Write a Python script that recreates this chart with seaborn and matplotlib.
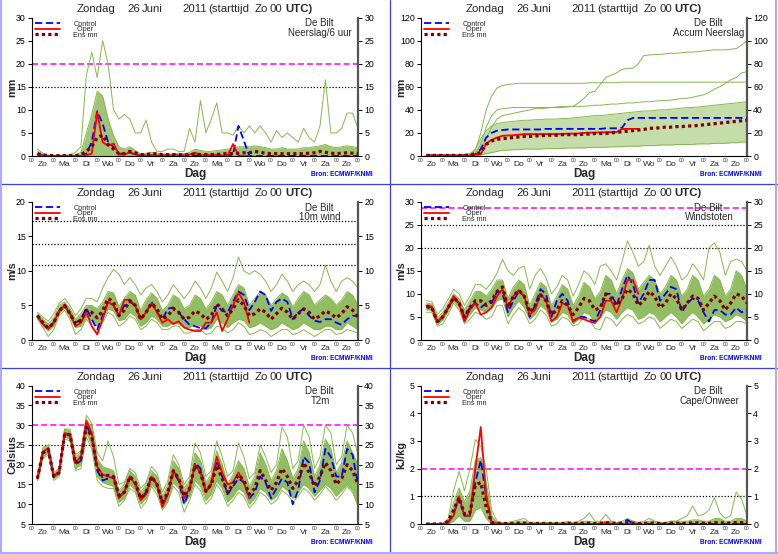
import numpy as np
import matplotlib
matplotlib.use("Agg")
import matplotlib.pyplot as plt
import seaborn as sns
from matplotlib.lines import Line2D

sns.set_style("white")
plt.rcParams['font.family'] = ['Liberation Sans', 'DejaVu Sans']

# ---------------- data (6-hourly, +6h .. +360h) ----------------
hours = list(range(6, 361, 6))
day_names = ["Zo", "Ma", "Di", "Wo", "Do", "Vr", "Za", "Zo", "Ma", "Di", "Wo", "Do", "Vr", "Za", "Zo"]

# Neerslag / 6 uur (mm)
pr_mean = [0.5,0.2,0.1,0.1, 0.1,0.1,0.1,0.1, 0.3,1.0,2.0,4.0, 4.5,2.5,1.5,0.5, 0.5,1.0,0.7,0.3, 0.3,0.5,0.5,0.3,
           0.3,0.3,0.3,0.2, 0.3,0.4,0.3,0.3, 0.3,0.3,0.5,0.5, 0.5,0.6,0.7,0.7, 1.0,0.8,0.6,0.5, 0.5,0.5,0.5,0.5,
           0.5,0.5,0.6,0.7, 1.0,0.8,0.6,0.5, 0.6,0.7,0.6,0.5]
pr_ctrl = [0.4,0.1,0.0,0.0, 0.0,0.0,0.0,0.0, 0.0,0.5,3.0,9.7, 7.0,3.0,2.0,0.5, 0.5,0.8,0.3,0.1, 0.1,0.1,0.1,0.1,
           0.1,0.1,0.1,0.1, 0.1,0.1,0.1,0.1, 0.1,0.1,0.1,0.1, 0.3,6.5,3.3,0.0, 0.0,0.0,0.0,0.0, 0.0,0.0,0.0,0.0,
           0.0,0.0,0.0,0.0, 0.0,0.0,0.0,0.0, 0.0,0.0,0.0,0.0]
pr_oper = [0.3,0.0,0.0,0.0, 0.0,0.0,0.0,0.0, 0.0,0.2,0.5,9.5, 3.0,2.2,2.7,0.3, 0.3,0.8,0.3,0.1, 0.1,0.1,0.1,0.1,
           0.1,0.1,0.1,0.1, 0.3,0.7,0.2,0.2, 0.2,0.2,0.1,0.1, 2.6,0.1,0.0,0.0]
pr_lo = [0.0,0.0,0.0,0.0, 0.0,0.0,0.0,0.0, 0.0,0.0,0.0,0.0, 0.0,0.0,0.0,0.0, 0.0,0.0,0.0,0.0, 0.0,0.0,0.0,0.0,
         0.0,0.0,0.0,0.0, 0.0,0.0,0.0,0.0, 0.0,0.0,0.0,0.0, 0.0,0.0,0.0,0.0, 0.0,0.0,0.0,0.0, 0.0,0.0,0.0,0.0,
         0.0,0.0,0.0,0.0, 0.0,0.0,0.0,0.0, 0.0,0.0,0.0,0.0]
pr_hi = [1.0,0.4,0.1,0.1, 0.1,0.1,0.1,0.2, 0.8,5.0,9.0,14.0, 13.0,8.0,4.5,2.0, 1.5,2.0,1.2,0.5, 0.6,0.8,0.6,0.5,
         0.4,0.5,0.6,0.5, 0.8,1.5,1.2,1.0, 1.0,1.2,1.3,1.5, 1.5,2.0,2.0,2.0, 2.2,2.0,1.8,1.5, 1.5,1.8,1.5,1.5,
         1.5,1.8,1.8,2.0, 2.2,2.5,2.0,1.8, 2.0,2.2,2.0,1.8]
pr_max = [1.5,0.6,0.2,0.2, 0.2,0.2,0.3,0.8, 2.0,17.5,22.5,17.0, 25.0,20.0,10.0,8.0, 9.0,8.0,5.0,5.0, 7.8,3.0,1.0,1.0,
          1.5,1.5,1.0,1.0, 6.0,3.0,12.0,5.0, 8.0,11.5,5.0,5.0, 4.5,6.5,5.0,6.5, 5.0,6.5,5.0,3.0, 5.5,4.0,5.0,4.0,
          3.0,6.0,4.0,3.0, 6.5,16.5,5.0,5.0, 6.0,9.3,9.3,6.0]

# Accum neerslag (mm)
acc_mean = [0.5,0.5,0.5,0.5, 0.5,0.5,0.5,0.5, 0.8,2.0,3.0,10.0, 13.0,14.5,15.0,15.5, 16.0,16.5,17.0,17.0, 17.5,17.5,18.0,18.0,
            18.0,18.5,18.5,18.5, 18.5,19.0,19.0,19.5, 19.5,19.5,20.0,20.5, 21.0,21.5,22.0,22.5, 23.0,24.0,24.0,24.5,
            25.0,25.0,25.5,25.5, 26.0,26.0,26.5,27.0, 27.5,28.0,28.5,29.0, 29.5,30.0,30.5,31.0]
acc_ctrl = [0.5,0.5,0.5,0.5, 0.5,0.5,0.5,0.5, 0.5,1.5,6.0,16.0, 20.0,22.0,22.5,23.0, 23.0,23.0,23.0,23.0, 23.0,23.0,23.5,23.5,
            23.5,23.5,23.5,23.5, 23.5,23.5,23.5,23.5, 23.5,24.0,24.0,24.0, 24.5,31.0,33.0,33.0, 33.0,33.0,33.0,33.0,
            33.0,33.0,33.0,33.0, 33.0,33.0,33.0,33.0, 33.0,33.0,33.0,33.0, 33.0,33.0,33.0,33.0]
acc_oper = [0.5,0.5,0.5,0.5, 0.5,0.5,0.5,0.5, 0.5,1.0,1.5,11.0, 14.0,16.0,17.5,17.8, 18.0,18.5,19.0,19.0, 19.0,19.0,19.0,19.0,
            19.0,19.2,19.3,19.4, 19.5,20.0,20.2,20.3, 20.5,20.6,20.7,20.8, 23.4,23.5,23.5,23.5]
acc_lo = [0.0,0.0,0.0,0.0, 0.0,0.0,0.0,0.0, 0.0,0.2,1.0,2.0, 3.0,4.0,5.0,5.0, 5.5,5.5,6.0,6.0, 6.0,6.0,6.5,6.5,
          6.5,6.5,7.0,7.0, 7.0,7.0,7.5,7.5, 7.5,7.5,8.0,8.0, 8.0,8.5,8.5,8.5, 9.0,9.0,9.0,9.5, 9.5,9.5,10.0,10.0,
          10.0,10.0,10.5,10.5, 10.5,11.0,11.0,11.0, 11.5,11.5,12.0,12.0]
acc_hi = [1.0,1.0,1.0,1.0, 1.0,1.0,1.0,1.5, 2.0,6.0,15.0,22.0, 26.0,28.0,29.0,29.5, 30.0,30.5,31.0,31.0, 31.5,31.5,32.0,32.0,
          32.0,32.5,32.5,33.0, 33.5,34.0,34.5,35.0, 35.0,35.5,36.0,36.5, 37.0,37.5,38.0,38.5, 39.0,39.0,39.5,40.0,
          40.0,40.5,41.0,41.5, 42.0,42.0,42.5,43.0, 43.5,44.0,44.5,45.0, 45.5,46.0,46.5,47.0]
acc_max = [0.5,0.5,0.5,0.5, 0.5,0.5,0.5,0.5, 0.5,2.0,10.0,25.0, 35.0,40.0,41.0,41.5, 42.0,42.0,42.0,42.0, 42.0,42.0,42.0,42.0,
           42.5,43.0,43.0,43.0, 46.0,50.0,55.0,56.0, 62.0,68.0,70.0,72.0, 75.0,76.0,76.0,80.0, 87.0,87.5,88.0,88.0,
           88.5,89.0,89.0,89.5, 90.0,90.0,90.5,91.0, 91.5,92.0,92.0,92.0, 92.5,93.0,96.0,100.0]
acc_flat = [0.5,0.5,0.5,0.5, 0.5,0.5,0.5,0.5, 1.0,5.0,20.0,40.0, 52.0,59.0,61.0,62.0, 62.5,63.0,63.0,63.0, 63.0,63.0,63.0,63.0,
            63.0,63.0,63.0,63.0, 63.0,63.0,63.5,63.5, 63.5,63.5,63.5,63.5, 64.0,64.0,64.0,64.0, 64.0,64.0,64.0,64.0,
            64.0,64.0,64.0,64.0, 64.0,64.0,64.0,64.0, 64.0,64.0,64.0,64.0, 64.0,64.0,64.0,64.0]
acc_late = [0.5,0.5,0.5,0.5, 0.5,0.5,0.5,0.5, 0.5,1.0,5.0,15.0, 25.0,32.0,35.0,36.0, 37.0,38.0,39.0,40.0, 41.0,41.0,41.5,42.0,
            42.0,42.0,42.5,43.0, 43.0,43.0,43.5,44.0, 44.0,44.5,45.0,45.0, 45.5,46.0,46.0,46.5, 47.0,47.0,47.5,48.0,
            48.0,48.5,49.0,50.0, 50.0,51.0,52.0,53.0, 55.0,58.0,60.0,63.0, 66.0,68.0,72.0,73.0]

# 10m wind (m/s)
wind_mean = [3.5,2.5,1.7,2.5, 4.2,5.0,3.8,2.3, 2.8,4.3,4.0,3.2, 4.2,6.0,5.5,3.5, 4.3,5.7,5.0,3.0, 4.0,5.3,4.5,3.0,
             3.5,4.5,4.0,3.0, 3.3,4.2,3.8,3.0, 3.5,5.2,4.5,3.5, 4.5,5.8,5.0,3.5, 3.8,4.5,4.0,3.0, 3.8,4.6,4.0,3.0,
             3.8,4.5,4.0,3.0, 3.5,4.2,3.8,3.2, 3.8,4.8,4.3,3.3]
wind_ctrl = [3.5,2.3,1.7,2.5, 4.2,5.0,3.8,2.5, 3.0,4.6,3.0,1.5, 3.5,5.5,5.0,3.5, 5.0,5.5,5.0,3.0, 4.0,5.5,4.0,3.0,
             4.5,4.7,4.0,3.0, 2.2,2.0,1.7,1.7, 2.5,5.0,4.2,4.0, 5.5,7.0,6.5,4.3, 5.5,7.0,6.5,4.2, 5.5,6.0,5.5,3.0,
             4.0,4.5,3.5,2.8, 2.6,3.0,3.0,2.5, 2.2,3.0,3.5,3.5]
wind_oper = [3.5,2.3,1.6,2.5, 4.2,5.0,3.8,2.0, 2.5,4.0,2.0,0.8, 3.0,5.5,5.0,3.5, 5.8,5.8,5.0,3.0, 4.0,5.3,4.0,2.5,
             3.0,2.3,2.7,1.8, 1.5,1.3,1.3,2.5, 2.5,4.0,1.3,3.0, 5.0,6.8,5.5,2.5]
wind_lo = [3.2,2.0,1.3,2.0, 3.8,4.7,3.3,1.8, 2.0,3.3,2.8,2.0, 3.0,4.5,4.2,2.8, 3.0,4.0,3.5,2.0, 2.5,3.5,3.0,2.0,
           2.0,2.5,2.3,1.8, 1.8,2.3,2.0,1.5, 1.8,3.0,2.5,1.8, 2.5,3.0,2.8,1.8, 2.0,2.5,2.0,1.5, 1.8,2.5,2.0,1.5,
           1.8,2.5,2.0,1.5, 1.5,2.0,2.0,1.5, 1.5,2.5,2.0,1.5]
wind_hi = [3.8,3.0,2.3,3.2, 5.0,5.5,4.5,3.0, 3.8,5.0,5.0,4.5, 5.5,7.0,6.8,4.8, 6.0,7.0,6.5,4.3, 5.8,6.8,6.0,4.3,
           5.0,6.5,6.0,4.5, 5.0,6.5,6.0,4.5, 5.5,7.0,6.5,5.0, 6.5,8.0,7.5,5.0, 6.0,7.0,6.5,5.0, 6.0,6.8,6.3,4.8,
           6.0,7.0,6.5,5.0, 5.8,6.5,6.0,5.0, 5.8,7.0,6.5,5.0]
wind_max = [4.0,3.3,2.7,3.8, 5.3,6.0,5.0,3.5, 4.5,6.0,6.0,5.5, 7.5,9.0,10.2,9.5, 8.0,9.0,8.0,6.5, 7.5,8.0,7.0,5.5,
            6.5,8.0,7.0,6.0, 7.0,8.5,7.5,6.0, 7.5,9.8,8.5,7.0, 9.0,12.0,10.0,9.5, 10.0,9.5,8.5,7.0, 8.0,9.5,8.5,7.0,
            8.0,8.5,8.0,7.0, 8.0,10.8,8.5,7.0, 8.5,9.0,8.5,7.5]
wind_min = [3.0,1.8,0.5,1.5, 3.5,4.3,3.0,0.8, 1.5,3.0,2.0,1.0, 2.5,4.0,3.5,2.0, 2.5,3.5,3.0,1.5, 2.0,3.0,2.5,1.5,
            1.5,2.0,2.0,1.0, 1.0,1.5,1.5,0.8, 1.0,2.0,1.8,1.0, 1.5,2.5,2.0,0.8, 1.0,1.5,1.2,0.5, 1.0,1.5,1.5,0.8,
            1.0,1.5,1.0,0.5, 1.0,1.5,1.5,0.8, 1.0,1.5,1.3,1.0]

# Windstoten (m/s)
gust_mean = [7.2,7.0,4.0,5.0, 7.0,9.2,8.0,5.0, 7.0,8.5,8.5,7.5, 8.5,10.5,11.5,7.0, 9.5,10.8,9.5,6.0, 7.5,9.8,8.5,5.5,
             6.5,8.5,7.5,5.5, 7.0,9.0,8.5,6.5, 7.0,10.0,9.0,7.5, 9.0,11.0,10.0,7.5, 8.5,10.5,9.5,7.0, 8.0,10.0,9.0,6.5,
             8.0,9.5,9.0,6.5, 8.0,9.5,8.5,6.5, 8.0,10.0,9.5,8.0]
gust_ctrl = [7.2,7.0,3.8,5.0, 7.0,9.0,8.0,5.0, 7.0,8.0,7.0,8.0, 8.0,10.5,10.0,6.0, 8.5,10.5,9.5,5.0, 7.5,11.0,10.0,5.0,
             8.5,10.0,8.5,4.0, 5.0,5.0,4.5,4.0, 6.5,10.0,10.0,7.5, 11.0,14.0,12.0,8.0, 10.0,13.0,13.0,8.5, 10.0,11.5,11.0,6.0,
             8.0,9.0,8.5,6.0, 4.0,6.5,6.5,5.5, 5.5,7.0,6.0,6.5]
gust_oper = [7.5,7.2,4.0,5.0, 7.0,9.5,8.0,4.0, 6.5,8.0,5.5,6.0, 7.0,9.5,11.0,7.0, 9.5,10.8,9.5,5.5, 6.5,10.0,8.5,4.0,
             5.0,8.0,7.5,4.0, 4.8,4.5,4.0,3.7, 5.0,8.5,8.5,6.0, 9.0,13.0,13.0,10.0]
gust_lo = [6.5,6.5,3.3,4.3, 6.3,8.5,7.0,4.0, 5.5,7.0,6.5,6.0, 7.0,8.5,9.0,5.0, 7.0,8.5,7.0,4.5, 5.5,7.5,6.5,4.0,
           4.5,6.0,5.5,3.5, 4.5,6.0,5.5,4.0, 5.0,6.5,6.0,4.5, 6.0,7.0,6.5,4.5, 5.0,6.0,5.5,4.0, 5.0,6.0,5.0,3.5,
           5.0,6.0,5.0,3.5, 4.5,5.5,5.0,4.0, 4.5,5.5,5.0,4.0]
gust_hi = [8.0,7.8,4.8,6.0, 8.0,10.0,9.0,6.5, 8.5,10.5,10.5,9.5, 11.0,13.0,13.0,9.0, 11.5,13.0,12.0,7.5, 10.0,12.5,11.5,7.5,
           9.5,12.0,11.0,7.5, 9.5,12.5,11.5,9.0, 10.5,14.0,13.0,10.0, 13.0,15.5,14.5,11.0, 12.5,14.0,13.0,10.0,
           11.5,14.0,13.0,9.5, 11.0,14.0,13.0,9.5, 11.0,14.0,13.0,9.5, 11.0,15.0,14.0,11.0]
gust_max = [8.5,8.3,5.5,6.8, 8.8,11.0,10.0,7.5, 9.5,12.0,12.0,11.0, 12.5,14.5,17.5,15.0, 14.0,15.5,16.0,11.0, 14.0,15.5,13.5,10.0,
            11.5,14.0,13.0,9.5, 12.0,15.0,14.0,12.0, 16.0,16.5,15.0,13.0, 17.0,21.5,19.0,16.0, 17.0,20.5,16.0,14.0,
            16.0,18.0,16.0,13.0, 14.0,16.5,15.0,13.0, 20.0,21.0,19.0,14.0, 17.0,17.5,17.0,15.0]
gust_min = [6.0,6.0,3.0,3.5, 5.5,8.0,6.5,3.5, 4.5,6.0,5.5,4.5, 5.0,7.5,7.5,3.5, 5.5,7.0,6.0,3.5, 4.5,6.5,5.5,3.0,
            3.5,5.0,4.5,3.0, 3.5,5.0,4.5,2.5, 2.2,5.0,4.5,3.0, 4.5,5.5,5.0,3.5, 4.0,5.0,4.5,2.5, 3.5,4.5,4.0,2.5,
            3.5,4.5,4.0,2.0, 3.0,4.0,4.0,2.5, 3.0,4.0,4.0,3.5]

# T2m (Celsius)
t2m_mean = [16.5,23.0,23.8,17.0, 18.0,27.8,27.5,20.3, 21.5,29.5,27.0,19.0, 17.0,17.3,17.0,12.2, 13.0,17.0,15.5,11.5,
            13.0,17.0,15.0,10.5, 13.0,18.5,16.5,12.0, 14.0,19.8,18.0,13.3, 15.0,19.8,16.5,13.0, 15.0,17.5,16.0,12.5,
            14.0,18.5,16.0,13.5, 15.5,19.0,17.0,14.0, 16.0,20.5,18.0,14.5, 17.0,20.5,18.5,15.0, 16.5,20.0,18.5,15.0]
t2m_ctrl = [16.5,23.0,23.5,17.0, 18.0,27.5,27.5,20.0, 21.0,30.0,27.0,18.5, 16.0,16.5,17.0,12.0, 13.0,17.0,15.5,11.5,
            13.0,17.0,15.0,10.2, 12.5,18.0,16.0,10.0, 13.5,20.5,19.0,13.0, 15.0,21.0,17.0,12.5, 14.5,16.5,15.5,11.5,
            13.0,17.0,15.5,11.5, 14.0,16.5,15.5,10.0, 13.5,22.0,20.5,13.0, 16.0,24.0,22.0,17.0, 17.0,24.0,22.5,15.0]
t2m_oper = [16.5,23.2,24.2,17.2, 18.2,28.0,27.5,20.5, 22.0,31.0,28.0,19.5, 17.5,17.0,16.5,11.5, 13.0,17.0,15.0,11.0,
            12.5,17.0,15.0,9.3, 12.5,18.5,16.5,11.5, 14.0,20.0,18.0,13.0, 15.5,22.0,18.0,15.0, 15.5,18.0,15.5,11.5]
t2m_lo = [16.0,22.0,23.0,16.5, 17.5,27.0,26.5,19.0, 20.0,28.0,25.0,17.0, 15.5,15.0,14.5,10.5, 11.5,15.0,13.5,10.0,
          11.5,15.0,13.5,9.0, 11.0,15.5,14.0,10.0, 12.0,16.0,14.5,11.0, 12.5,16.0,14.0,10.5, 12.0,14.0,13.0,10.0,
          11.5,14.0,13.0,11.0, 12.0,14.5,13.5,11.5, 13.0,15.0,14.0,12.0, 13.5,15.0,14.0,12.0, 13.5,15.0,13.5,10.0]
t2m_hi = [17.0,24.0,25.0,17.5, 19.0,29.0,28.5,22.0, 23.0,31.5,29.5,21.5, 19.5,19.0,18.5,13.5, 15.0,18.5,17.0,13.0,
          15.0,18.5,17.0,12.0, 15.0,21.0,19.0,14.0, 16.0,23.0,21.0,15.5, 17.5,23.5,20.0,15.0, 17.5,21.0,19.0,14.5,
          17.0,23.0,20.0,16.0, 18.5,24.0,21.0,16.5, 19.0,26.0,23.0,17.0, 20.0,26.5,24.0,18.0, 20.5,26.0,23.0,20.0]
t2m_max = [17.0,24.3,25.0,18.0, 19.0,29.0,29.0,22.5, 23.5,32.5,30.5,23.0, 21.0,26.0,22.0,15.0, 15.5,19.0,18.0,14.0,
           15.5,19.5,18.0,13.0, 16.0,22.5,20.0,15.0, 17.0,25.5,23.0,17.0, 18.5,26.0,22.0,17.0, 18.5,25.5,22.0,16.5,
           18.0,25.0,22.0,18.0, 20.0,29.5,27.0,19.0, 21.0,30.0,27.0,19.0, 22.0,30.0,28.0,20.0, 22.0,30.0,28.0,22.5]
t2m_min = [16.0,21.5,22.5,16.0, 17.0,26.5,26.0,18.5, 19.0,27.0,24.0,16.0, 14.5,14.0,14.0,9.5, 11.0,14.0,13.0,9.0,
           10.5,14.5,12.5,8.5, 10.5,14.5,13.0,8.0, 11.0,15.0,13.5,10.0, 11.5,15.0,13.0,9.5, 11.0,13.0,12.0,9.0,
           10.5,13.0,12.0,10.0, 11.0,13.5,12.5,10.5, 12.0,14.0,13.0,11.0, 12.5,14.5,13.0,11.0, 12.5,14.5,13.0,9.5]

# Cape / Onweer (kJ/kg)
cape_mean = [0.0,0.0,0.0,0.0, 0.1,0.5,0.95,0.35, 0.4,1.4,1.5,0.6, 0.05,0.02,0.02,0.02, 0.02,0.03,0.03,0.02,
             0.02,0.02,0.02,0.02, 0.02,0.02,0.02,0.02, 0.02,0.03,0.03,0.02, 0.03,0.05,0.03,0.02, 0.03,0.05,0.03,0.02,
             0.02,0.03,0.03,0.02, 0.02,0.03,0.03,0.02, 0.03,0.04,0.04,0.03, 0.03,0.05,0.05,0.03, 0.04,0.05,0.05,0.03]
cape_ctrl = [0.0,0.0,0.0,0.0, 0.05,0.4,0.9,0.3, 0.3,1.5,2.3,1.0, 0.05,0.0,0.0,0.0, 0.0,0.0,0.0,0.0,
             0.0,0.0,0.0,0.0, 0.0,0.0,0.0,0.0, 0.0,0.0,0.0,0.0, 0.0,0.0,0.0,0.0, 0.05,0.15,0.02,0.0,
             0.0,0.0,0.0,0.0, 0.0,0.0,0.0,0.0, 0.0,0.0,0.0,0.0, 0.0,0.0,0.0,0.0, 0.0,0.0,0.0,0.0]
cape_oper = [0.0,0.0,0.0,0.0, 0.05,0.3,1.0,0.3, 0.3,2.0,3.5,1.0, 0.05,0.02,0.0,0.0, 0.0,0.0,0.0,0.0,
             0.0,0.0,0.0,0.0, 0.0,0.0,0.0,0.0, 0.0,0.0,0.0,0.0, 0.0,0.05,0.0,0.0, 0.0,0.0,0.0,0.0]
cape_lo = [0.0,0.0,0.0,0.0, 0.0,0.1,0.3,0.1, 0.1,0.5,0.6,0.2, 0.0,0.0,0.0,0.0, 0.0,0.0,0.0,0.0, 0.0,0.0,0.0,0.0,
           0.0,0.0,0.0,0.0, 0.0,0.0,0.0,0.0, 0.0,0.0,0.0,0.0, 0.0,0.0,0.0,0.0, 0.0,0.0,0.0,0.0, 0.0,0.0,0.0,0.0,
           0.0,0.0,0.0,0.0, 0.0,0.0,0.0,0.0, 0.0,0.0,0.0,0.0]
cape_hi = [0.0,0.0,0.0,0.0, 0.1,0.8,1.3,0.8, 1.2,2.3,2.4,1.5, 0.3,0.05,0.05,0.05, 0.05,0.1,0.1,0.05, 0.05,0.05,0.05,0.05,
           0.05,0.05,0.05,0.05, 0.05,0.1,0.1,0.05, 0.05,0.1,0.1,0.05, 0.05,0.1,0.1,0.05, 0.05,0.1,0.1,0.05,
           0.05,0.1,0.1,0.1, 0.1,0.15,0.15,0.1, 0.1,0.2,0.2,0.1, 0.1,0.2,0.2,0.1]
cape_max = [0.0,0.0,0.0,0.0, 0.2,1.2,1.9,1.2, 2.0,3.05,2.8,2.0, 0.5,0.1,0.05,0.05, 0.1,0.15,0.2,0.05, 0.05,0.05,0.05,0.05,
            0.05,0.05,0.1,0.05, 0.1,0.2,0.4,0.1, 0.1,0.35,0.1,0.05, 0.1,0.2,0.1,0.05, 0.1,0.2,0.1,0.05,
            0.05,0.1,0.1,0.2, 0.3,0.65,0.3,0.35, 0.5,0.95,0.4,0.2, 0.3,1.15,0.9,0.3]

# ---------------- panels ----------------
panels = [
    dict(col=0, row=0, name="Neerslag/6 uur", ylabel="mm", ylim=(0, 30), yticks=range(0, 31, 5),
         mean=pr_mean, ctrl=pr_ctrl, oper=pr_oper, lo=pr_lo, hi=pr_hi, extra=[pr_max],
         magenta=[20], dotted=[15], fill_alpha=0.75),
    dict(col=1, row=0, name="Accum Neerslag", ylabel="mm", ylim=(0, 120), yticks=range(0, 121, 20),
         mean=acc_mean, ctrl=acc_ctrl, oper=acc_oper, lo=acc_lo, hi=acc_hi, extra=[acc_max, acc_flat, acc_late],
         magenta=[], dotted=[], fill_alpha=0.45),
    dict(col=0, row=1, name="10m wind", ylabel="m/s", ylim=(0, 20), yticks=range(0, 21, 5),
         mean=wind_mean, ctrl=wind_ctrl, oper=wind_oper, lo=wind_lo, hi=wind_hi, extra=[wind_max, wind_min],
         magenta=[], dotted=[10.8, 13.9, 17.2], fill_alpha=0.85),
    dict(col=1, row=1, name="Windstoten", ylabel="m/s", ylim=(0, 30), yticks=range(0, 31, 5),
         mean=gust_mean, ctrl=gust_ctrl, oper=gust_oper, lo=gust_lo, hi=gust_hi, extra=[gust_max, gust_min],
         magenta=[28.5], dotted=[20, 25], fill_alpha=0.85),
    dict(col=0, row=2, name="T2m", ylabel="Celsius", ylim=(5, 40), yticks=range(5, 41, 5),
         mean=t2m_mean, ctrl=t2m_ctrl, oper=t2m_oper, lo=t2m_lo, hi=t2m_hi, extra=[t2m_max, t2m_min],
         magenta=[30], dotted=[25], fill_alpha=0.85),
    dict(col=1, row=2, name="Cape/Onweer", ylabel="kJ/kg", ylim=(0, 5), yticks=range(0, 6, 1),
         mean=cape_mean, ctrl=cape_ctrl, oper=cape_oper, lo=cape_lo, hi=cape_hi, extra=[cape_max],
         magenta=[2], dotted=[1], fill_alpha=0.8),
]

W, H = 778, 554
fig = plt.figure(figsize=(W / 100, H / 100), dpi=100)
fig.patch.set_facecolor("white")

COL_X = [0, 389]
ROW_Y = [0, 184, 368]
AX_L, AX_R, AX_T, AX_B = 32, 358, 17.5, 156

days = np.array(hours) / 24.0
GREEN_FILL = "#80b246"
GREEN_LINE = "#86b84c"
BLUE = "#0000ff"
RED = "#ff0000"
DKRED = "#800000"
MAGENTA = "#ff00ff"


def fx(px):
    return px / W


def fy(py):
    return 1 - py / H


def draw_line(ax, y, **kw):
    n = len(y)
    sns.lineplot(x=days[:n], y=np.array(y, dtype=float), ax=ax, legend=False,
                 estimator=None, errorbar=None, **kw)
    return ax.lines[-1]


title_parts = [("Zondag", 77, "normal"), ("26", 127, "normal"), ("Juni", 142, "normal"),
               ("2011", 182, "normal"), ("(starttijd", 208, "normal"), ("Zo", 255, "normal"),
               ("00", 270, "normal"), ("UTC)", 285, "bold")]

for p in panels:
    x0 = COL_X[p["col"]]
    y0 = ROW_Y[p["row"]]
    ax = fig.add_axes([fx(x0 + AX_L), fy(y0 + AX_B), (AX_R - AX_L) / W, (AX_B - AX_T) / H])
    ax.set_facecolor("white")

    # reference lines
    for v in p["dotted"]:
        ax.axhline(v, color="black", lw=0.9, ls=(0, (1, 1.5)), zorder=1)
    for v in p["magenta"]:
        ax.axhline(v, color=MAGENTA, lw=1.1, ls=(0, (4, 2)), zorder=1)

    # ensemble plume
    ax.fill_between(days, p["lo"], p["hi"], color=GREEN_FILL, alpha=p["fill_alpha"], lw=0, zorder=2)
    draw_line(ax, p["lo"], color=GREEN_LINE, lw=0.7, zorder=2)
    draw_line(ax, p["hi"], color=GREEN_LINE, lw=0.7, zorder=2)
    for e in p["extra"]:
        draw_line(ax, e, color=GREEN_LINE, lw=0.7, zorder=2)

    h_ctrl = draw_line(ax, p["ctrl"], color=BLUE, lw=1.3, linestyle=(0, (4, 2)), zorder=4)
    h_oper = draw_line(ax, p["oper"], color=RED, lw=1.3, zorder=5)
    h_mean = draw_line(ax, p["mean"], color=DKRED, lw=2.3, linestyle=(0, (1, 1)), zorder=6)

    ax.set_xlim(0, 15)
    ax.set_ylim(*p["ylim"])
    ax.set_yticks(list(p["yticks"]))
    ax.set_xlabel("")
    ax.set_ylabel("")
    ax.grid(False)

    # x ticks: "00" at day boundaries, day names at noon
    ax.set_xticks(np.arange(0, 16), ["00"] * 16)
    ax.set_xticks(np.arange(15) + 0.5, day_names, minor=True)
    ax.tick_params(axis="x", which="major", length=0, pad=1.2, labelsize=3.6)
    ax.tick_params(axis="x", which="minor", length=0, pad=3.6, labelsize=6.0)
    ax.tick_params(axis="y", which="both", left=True, right=True, labelleft=True, labelright=True,
                   direction="out", length=3, width=0.7, pad=1.5, labelsize=6.3, colors="black")

    ax.spines["top"].set_visible(False)
    ax.spines["left"].set_color("black")
    ax.spines["left"].set_linewidth(0.8)
    ax.spines["bottom"].set_color("black")
    ax.spines["bottom"].set_linewidth(0.8)
    ax.spines["right"].set_color("#555555")
    ax.spines["right"].set_linewidth(1.6)

    # legend
    ax.legend([h_ctrl, h_oper, h_mean], ["Control", "  Oper", "Ens mn"], loc="upper left",
              bbox_to_anchor=((35 - AX_L) / (AX_R - AX_L), 1 - (20.5 - AX_T) / (AX_B - AX_T)),
              frameon=False, fontsize=5.2, handlelength=3.5, handletextpad=1.8,
              labelspacing=-0.2, borderpad=0, borderaxespad=0)

    # texts
    for txt, px, wt in title_parts:
        fig.text(fx(x0 + px), fy(y0 + 11.5), txt, fontsize=8.2, fontweight=wt, ha="left", va="baseline")
    fig.text(fx(x0 + 319), fy(y0 + 26.5), "De Bilt", fontsize=7, ha="center", va="baseline")
    fig.text(fx(x0 + 320), fy(y0 + 36.5), p["name"], fontsize=7, ha="center", va="baseline")
    fig.text(fx(x0 + 12), fy(y0 + 87), p["ylabel"], fontsize=7.8, fontweight="bold",
             rotation=90, ha="center", va="center")
    fig.text(fx(x0 + 195), fy(y0 + 177), "Dag", fontsize=8.5, fontweight="bold", ha="center", va="baseline")
    fig.text(fx(x0 + 311), fy(y0 + 176), "Bron: ECMWF/KNMI", fontsize=4.7, fontweight="bold",
             color=BLUE, ha="left", va="baseline")

# panel separators and outer frame
sep = "#3c3cff"
fig.add_artist(Line2D([fx(389.5), fx(389.5)], [0, 1], transform=fig.transFigure, color=sep, lw=0.9))
fig.add_artist(Line2D([0, 1], [fy(183.5), fy(183.5)], transform=fig.transFigure, color=sep, lw=0.9))
fig.add_artist(Line2D([0, 1], [fy(367.5), fy(367.5)], transform=fig.transFigure, color=sep, lw=0.9))
frame = "#aaaaff"
fig.add_artist(Line2D([0.001, 0.001], [0, 1], transform=fig.transFigure, color=frame, lw=1.5))
fig.add_artist(Line2D([0.998, 0.998], [0, 1], transform=fig.transFigure, color=frame, lw=1.5))
fig.add_artist(Line2D([0, 1], [0.002, 0.002], transform=fig.transFigure, color=frame, lw=1.5))

fig.savefig("out.png", dpi=100, facecolor="white")
